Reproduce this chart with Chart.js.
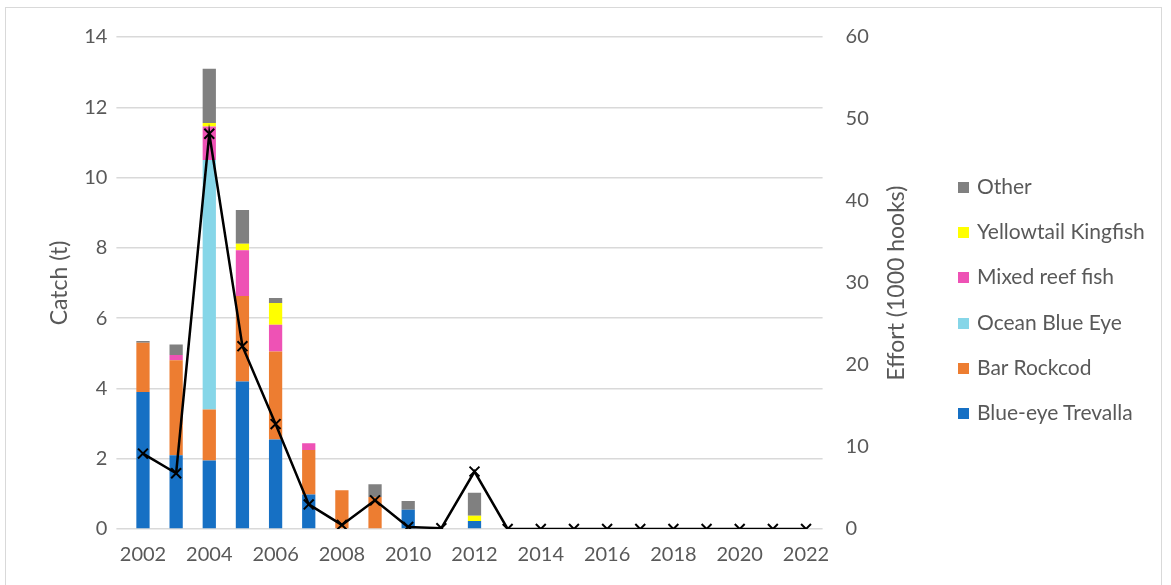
<!DOCTYPE html>
<html>
<head>
<meta charset="utf-8">
<script src="https://cdn.jsdelivr.net/npm/chart.js@4.4.1/dist/chart.umd.min.js"></script>
<style>
  body { margin: 0; background: #fff; }
  #wrap { position: relative; width: 1171px; height: 585px; }
  #frame { position: absolute; left: 5px; top: 7px; width: 1155px; height: 590px; border: 1px solid #d9d9d9; }
  #myChart { position: absolute; left: 0; top: 0; }
  #legend { position: absolute; left: 958px; top: 0; font: 21px Lato, "Open Sans", sans-serif; color: #595959; }
  .item { position: absolute; left: 0; white-space: nowrap; line-height: 24px; height: 24px; }
  .box { display: inline-block; width: 11px; height: 11px; margin-right: 8px; vertical-align: 1px; }
</style>
</head>
<body>
<div id="wrap">
  <div id="frame"></div>
  <canvas id="myChart" width="1171" height="585"></canvas>
  <div id="legend"></div>
</div>
<script>
// años
var years = ['2002', '2003', '2004', '2005', '2006', '2007', '2008', '2009', '2010', '2011', '2012',
	'2013', '2014', '2015', '2016', '2017', '2018', '2019', '2020', '2021', '2022'];

// captura (t) por especie
var blueEye = [3.9, 2.1, 1.95, 4.2, 2.55, 0.98, 0, 0, 0.55, 0, 0.23, 0, 0, 0, 0, 0, 0, 0, 0, 0, 0];
var barRockcod = [1.4, 2.7, 1.45, 2.43, 2.5, 1.27, 1.1, 0.91, 0, 0, 0, 0, 0, 0, 0, 0, 0, 0, 0, 0, 0];
var oceanBlueEye = [0, 0, 7.1, 0, 0, 0, 0, 0, 0, 0, 0, 0, 0, 0, 0, 0, 0, 0, 0, 0, 0];
var mixedReef = [0, 0.15, 0.95, 1.3, 0.76, 0.19, 0, 0, 0, 0, 0, 0, 0, 0, 0, 0, 0, 0, 0, 0, 0];
var yellowtail = [0, 0, 0.1, 0.19, 0.62, 0, 0, 0, 0, 0, 0.15, 0, 0, 0, 0, 0, 0, 0, 0, 0, 0];
var other = [0.05, 0.3, 1.55, 0.96, 0.14, 0, 0, 0.36, 0.25, 0, 0.65, 0, 0, 0, 0, 0, 0, 0, 0, 0, 0];

// esfuerzo (1000 anzuelos)
var effort = [9.2, 6.8, 48.2, 22.3, 12.8, 3.0, 0.5, 3.5, 0.25, 0.1, 7.0, 0, 0, 0, 0, 0, 0, 0, 0, 0, 0];

var catchTicks = [0, 2, 4, 6, 8, 10, 12, 14];
var effortTicks = [0, 10, 20, 30, 40, 50, 60];

var textColor = '#595959';
var fontFamily = 'Lato, "Open Sans", sans-serif';

function barSet(label, data, color) {
	return {
		type: 'bar',
		label: label,
		data: data,
		backgroundColor: color,
		yAxisID: 'y',
		stack: 'catch',
		barPercentage: 0.4,
		categoryPercentage: 1,
		order: 1
	};
}

// título del eje derecho, girado como en Excel
var rightTitle = {
	id: 'rightTitle',
	afterDraw: function(chart) {
		var s = chart.scales.y1;
		var c = chart.ctx;
		c.save();
		c.translate(s.left + 74, (chart.chartArea.top + chart.chartArea.bottom) / 2);
		c.rotate(-Math.PI / 2);
		c.fillStyle = textColor;
		c.font = '23px ' + fontFamily;
		c.textAlign = 'center';
		c.textBaseline = 'middle';
		c.fillText('Effort (1000 hooks)', 0, 0);
		c.restore();
	}
};

// leyenda en HTML (orden inverso, sin la línea)
function crearLeyenda(chart) {
	var legend = document.getElementById('legend');
	var sets = chart.data.datasets.filter(function(d) { return d.type === 'bar'; }).reverse();
	for (var i = 0; i < sets.length; i++) {
		var item = document.createElement('div');
		item.className = 'item';
		item.style.top = (186 + i * 45.2 - 12) + 'px';
		var box = document.createElement('span');
		box.className = 'box';
		box.style.background = sets[i].backgroundColor;
		item.appendChild(box);
		item.appendChild(document.createTextNode(sets[i].label));
		legend.appendChild(item);
	}
}

function crearGrafico() {
	var ctx = document.getElementById('myChart').getContext('2d');
	var chart = new Chart(ctx, {
		data: {
			labels: years,
			datasets: [
				{
					type: 'line',
					label: 'Effort',
					data: effort,
					yAxisID: 'y1',
					borderColor: '#000',
					borderWidth: 2.5,
					tension: 0,
					pointStyle: 'crossRot',
					pointRadius: 7,
					pointBorderColor: '#000',
					pointBorderWidth: 2,
					order: 0
				},
				barSet('Blue-eye Trevalla', blueEye, '#1670c4'),
				barSet('Bar Rockcod', barRockcod, '#ed7d31'),
				barSet('Ocean Blue Eye', oceanBlueEye, '#86d6e8'),
				barSet('Mixed reef fish', mixedReef, '#ee52b5'),
				barSet('Yellowtail Kingfish', yellowtail, '#ffff00'),
				barSet('Other', other, '#808080')
			]
		},
		options: {
			responsive: false,
			animation: false,
			layout: { padding: { left: 36.4, top: 37, right: 220.4, bottom: 12 } },
			plugins: {
				tooltip: { enabled: false },
				legend: { display: false }
			},
			scales: {
				x: {
					stacked: true,
					grid: { display: false },
					border: { display: false },
					ticks: {
						color: textColor,
						font: { family: fontFamily, size: 20 },
						autoSkip: false,
						maxRotation: 0,
						padding: 6,
						callback: function(v, i) { return i % 2 === 0 ? years[i] : ''; }
					}
				},
				y: {
					stacked: true,
					position: 'left',
					min: 0,
					max: 14,
					afterBuildTicks: function(s) { s.ticks = catchTicks.map(function(v) { return { value: v }; }); },
					afterFit: function(s) { s.width = 90; },
					grid: { color: '#d9d9d9', lineWidth: 1.5, tickLength: 10 },
					border: { display: false },
					ticks: { color: textColor, font: { family: fontFamily, size: 20 }, padding: 9 },
					title: { display: true, text: 'Catch (t)', color: textColor, font: { family: fontFamily, size: 23 }, padding: 9 }
				},
				y1: {
					position: 'right',
					min: 0,
					max: 60,
					afterBuildTicks: function(s) { s.ticks = effortTicks.map(function(v) { return { value: v }; }); },
					afterFit: function(s) { s.width = 128; },
					grid: { display: false },
					border: { display: false },
					ticks: { color: textColor, font: { family: fontFamily, size: 20 }, padding: 15 }
				}
			}
		},
		plugins: [rightTitle]
	});
	crearLeyenda(chart);
}

document.fonts.load('21px Lato').then(crearGrafico, crearGrafico);
</script>
</body>
</html>
